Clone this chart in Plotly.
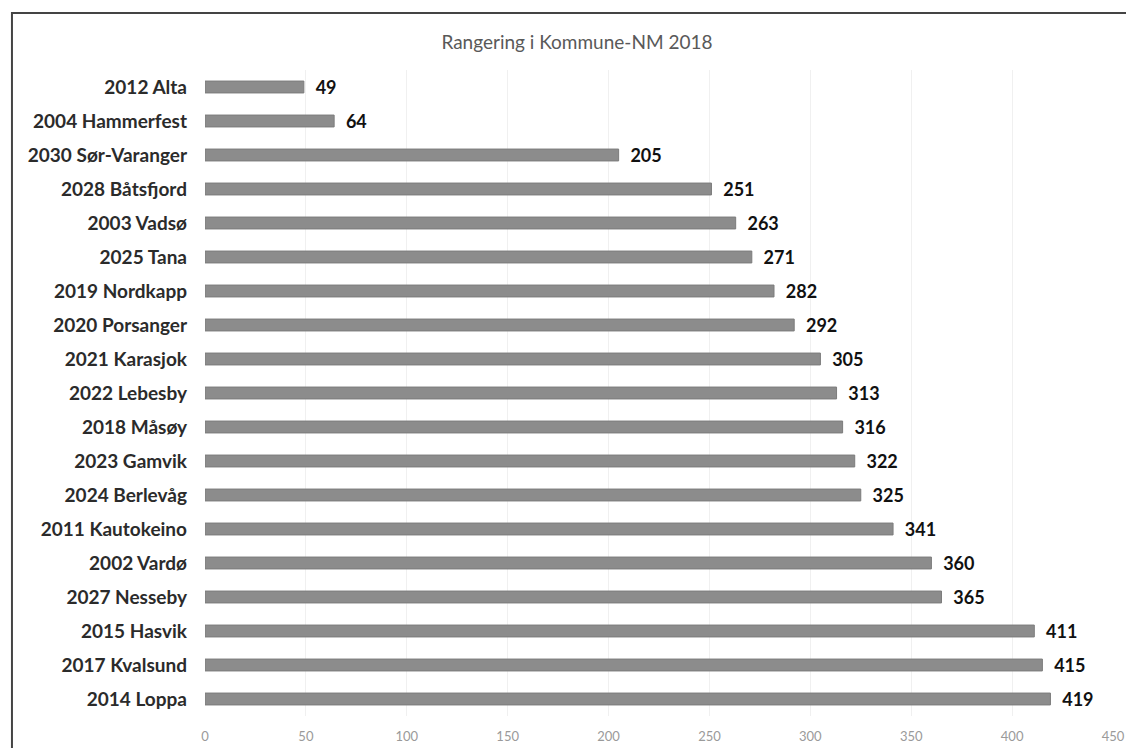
import plotly.graph_objects as go

categories = ["2012 Alta", "2004 Hammerfest", "2030 Sør-Varanger", "2028 Båtsfjord",
              "2003 Vadsø", "2025 Tana", "2019 Nordkapp", "2020 Porsanger",
              "2021 Karasjok", "2022 Lebesby", "2018 Måsøy", "2023 Gamvik",
              "2024 Berlevåg", "2011 Kautokeino", "2002 Vardø", "2027 Nesseby",
              "2015 Hasvik", "2017 Kvalsund", "2014 Loppa"]
values = [49, 64, 205, 251, 263, 271, 282, 292, 305, 313, 316, 322, 325, 341, 360, 365, 411, 415, 419]
x_ticks = [0, 50, 100, 150, 200, 250, 300, 350, 400, 450]
title = "Rangering i Kommune-NM 2018"

FONT = "Lato"

fig = go.Figure(go.Bar(
    y=categories, x=values, orientation="h",
    marker=dict(color="#8c8c8c", line=dict(color="#7c7c7c", width=1)),
    width=0.35,
    text=["  " + str(v) for v in values],
    textposition="outside",
    constraintext="none",
    textfont=dict(family=FONT, size=18, color="#111111", weight="bold"),
    cliponaxis=False,
))

fig.update_layout(
    width=1126, height=740,
    margin=dict(l=197, r=21, t=62, b=32, autoexpand=False),
    paper_bgcolor="white", plot_bgcolor="white",
    showlegend=False,
    title=dict(text=title, x=0.5053, xanchor="center", y=0.954, yanchor="middle",
               font=dict(family=FONT, size=19, color="#595959")),
    xaxis=dict(range=[0, 450], tickvals=x_ticks, showgrid=True, gridcolor="#f0f0f0",
               gridwidth=1, zeroline=False, showline=False, automargin=False,
               tickfont=dict(family=FONT, size=13, color="#9a9a9a"), ticks="",
               ticklabelstandoff=11),
    yaxis=dict(autorange="reversed", showgrid=False, showline=False, ticks="",
               automargin=False,
               tickfont=dict(family=FONT, size=19, color="#2b2b2b", weight="bold"),
               ticklabelstandoff=17),
    shapes=[dict(type="rect", xref="paper", yref="paper",
                 x0=-0.2126, x1=1.1, y0=-0.2, y1=1.0882,
                 line=dict(color="#444444", width=2), fillcolor="rgba(0,0,0,0)")],
)

fig.write_html("out.html")
